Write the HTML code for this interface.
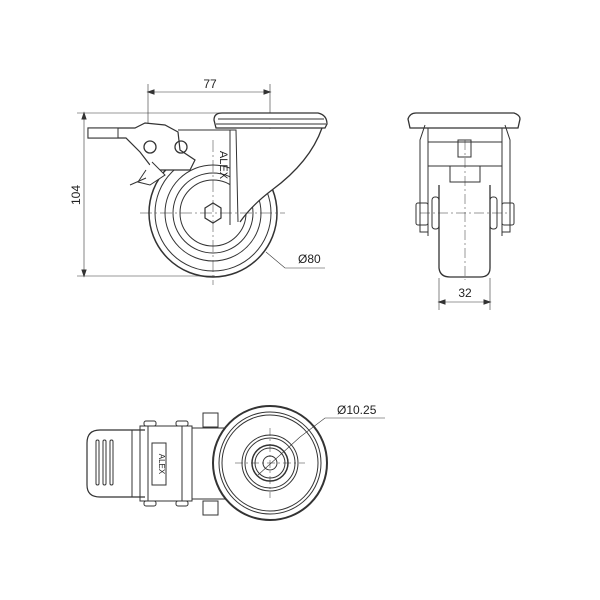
<!DOCTYPE html>
<html><head><style>body{margin:0;background:#fff}svg{display:block}text{font-family:"Liberation Sans",sans-serif;fill:#222}</style></head><body>
<svg width="600" height="600" viewBox="0 0 600 600" xmlns="http://www.w3.org/2000/svg">
<g fill="none" stroke="#333" stroke-width="1">
<!-- SIDE VIEW -->
<line x1="148" y1="84" x2="148" y2="150" stroke-width="0.6"/>
<line x1="270" y1="84" x2="270" y2="130" stroke-width="0.6"/>
<line x1="150" y1="92" x2="268" y2="92" stroke-width="0.6"/>
<path d="M148 92 l6 -2 v4 z M270 92 l-6 -2 v4 z" fill="#333"/>
<line x1="77" y1="113" x2="220" y2="113" stroke-width="0.6"/>
<line x1="77" y1="276" x2="215" y2="276" stroke-width="0.6"/>
<line x1="84" y1="115" x2="84" y2="274" stroke-width="0.6"/>
<path d="M84 113 l-2 6 h4 z M84 276 l-2 -6 h4 z" fill="#333"/>
<!-- wheel -->
<circle cx="213" cy="213" r="64" stroke-width="1.5"/>
<circle cx="213" cy="213" r="58"/>
<circle cx="213" cy="213" r="48"/>
<circle cx="213" cy="213" r="40"/>
<circle cx="213" cy="213" r="33"/>
<!-- fork (occludes wheel) -->
<path d="M178 130 L322 128 Q310 162 272 190 Q252 205 240 222 L238 222 L230 225 L230 160 L178 160 Z" fill="#fff" stroke="none"/>
<path d="M322 128 Q310 162 272 190 Q252 205 240 222" stroke-width="1.3"/>
<path d="M230 130 L236 130 L238 222"/>
<line x1="230" y1="130" x2="230" y2="225"/>
<line x1="178" y1="130" x2="230" y2="130"/>
<polygon points="205,208 213,203 221,208 221,218 213,223 205,218" fill="#fff" stroke-width="1.2"/>
<!-- top plate -->
<path d="M216 128 L214 120 Q214 113 222 113 L318 113 Q327 115 327 124 L325 128 Z" fill="#fff" stroke-width="1.3"/>
<line x1="218" y1="119" x2="324" y2="119"/>
<line x1="216" y1="124" x2="326" y2="124"/>
<!-- brake -->
<path d="M88 128 L88 138 L126 138 L140 152 L150 165 L160 170 L190 170 L195 160 L180 150 L178 132 L165 125 L145 123 L135 128 Z" fill="#fff" stroke-width="1.2"/>
<rect x="88" y="128" width="30" height="10" fill="#fff"/>
<circle cx="150" cy="147" r="6" stroke-width="1.3"/>
<circle cx="181" cy="147" r="6" stroke-width="1.3"/>
<path d="M152 162 Q158 168 165 175 L150 185 L138 182 L146 170" fill="#fff"/>
<path d="M130 185 L146 178"/>
<g stroke-width="0.5" stroke-dasharray="12,3,2,3">
<line x1="140" y1="213" x2="285" y2="213"/>
<line x1="213" y1="140" x2="213" y2="285"/>
</g>
<polyline points="266,252 285,268 325,268" stroke-width="0.6"/>
<!-- FRONT VIEW -->
<path d="M410 128 L408 119 Q410 113 416 113 L514 113 Q520 115 520 119 L518 128 Z" stroke-width="1.3"/>
<line x1="420" y1="113" x2="510" y2="113"/>
<rect x="428" y="128" width="74" height="14"/>
<rect x="458" y="140" width="13" height="17"/>
<rect x="428" y="142" width="74" height="24"/>
<rect x="450" y="166" width="30" height="16"/>
<path d="M425 125 L420 140 L420 232 L428 232"/>
<path d="M505 125 L510 140 L510 232 L502 232"/>
<line x1="428" y1="130" x2="428" y2="236"/>
<line x1="502" y1="130" x2="502" y2="236"/>
<path d="M439 185 L439 268 Q440 277 450 277 L480 277 Q490 277 490 268 L490 185" stroke-width="1.3"/>
<rect x="432" y="197" width="7" height="32" rx="3"/>
<rect x="490" y="197" width="7" height="32" rx="3"/>
<rect x="416" y="203" width="12" height="22" rx="2"/>
<rect x="502" y="203" width="12" height="22" rx="2"/>
<g stroke-width="0.5" stroke-dasharray="10,3,2,3">
<line x1="465" y1="140" x2="465" y2="280"/>
<line x1="420" y1="213" x2="510" y2="213"/>
</g>
<line x1="439" y1="278" x2="439" y2="310" stroke-width="0.6"/>
<line x1="490" y1="278" x2="490" y2="310" stroke-width="0.6"/>
<line x1="441" y1="302" x2="488" y2="302" stroke-width="0.6"/>
<path d="M439 302 l6 -2 v4 z M490 302 l-6 -2 v4 z" fill="#333"/>
<!-- BOTTOM VIEW -->
<path d="M145 430 L100 430 Q87 430 87 443 L87 485 Q87 497 100 497 L145 497" stroke-width="1.2"/>
<rect x="96" y="440" width="3" height="45" rx="1.5"/>
<rect x="103" y="440" width="3" height="45" rx="1.5"/>
<rect x="110" y="440" width="3" height="45" rx="1.5"/>
<rect x="132" y="430" width="8" height="67"/>
<rect x="140" y="426" width="8" height="75"/>
<rect x="148" y="426" width="34" height="75"/>
<rect x="182" y="426" width="10" height="75"/>
<rect x="192" y="428" width="40" height="71"/>
<rect x="152" y="443" width="14" height="42"/>
<rect x="203" y="413" width="15" height="14"/>
<rect x="203" y="501" width="15" height="14"/>
<rect x="144" y="421" width="12" height="5" rx="2"/>
<rect x="176" y="421" width="12" height="5" rx="2"/>
<rect x="144" y="501" width="12" height="5" rx="2"/>
<rect x="176" y="501" width="12" height="5" rx="2"/>
<circle cx="270" cy="463" r="57" fill="#fff" stroke-width="2"/>
<circle cx="270" cy="463" r="51"/>
<circle cx="270" cy="463" r="48"/>
<circle cx="270" cy="463" r="28"/>
<circle cx="270" cy="463" r="25"/>
<circle cx="270" cy="463" r="18" stroke-width="1.5"/>
<circle cx="270" cy="463" r="15"/>
<circle cx="270" cy="463" r="7"/>
<g stroke-width="0.5" stroke-dasharray="8,3,2,3">
<line x1="235" y1="463" x2="305" y2="463"/>
<line x1="270" y1="428" x2="270" y2="498"/>
</g>
<polyline points="258,475 300,437 325,418 385,418" stroke-width="0.6"/>
</g>
<text x="210" y="88" font-size="12" text-anchor="middle">77</text>
<text x="80" y="195" font-size="12" text-anchor="middle" transform="rotate(-90 80 195)">104</text>
<text x="298" y="263" font-size="12">Ø80</text>
<text x="465" y="297" font-size="12" text-anchor="middle">32</text>
<text x="337" y="414" font-size="12">Ø10.25</text>
<text x="220" y="165" font-size="11" transform="rotate(90 220 165)" text-anchor="middle">ALEX</text>
<text x="159" y="464" font-size="8" transform="rotate(90 159 464)" text-anchor="middle">ALEX</text>
</svg>
</body></html>
